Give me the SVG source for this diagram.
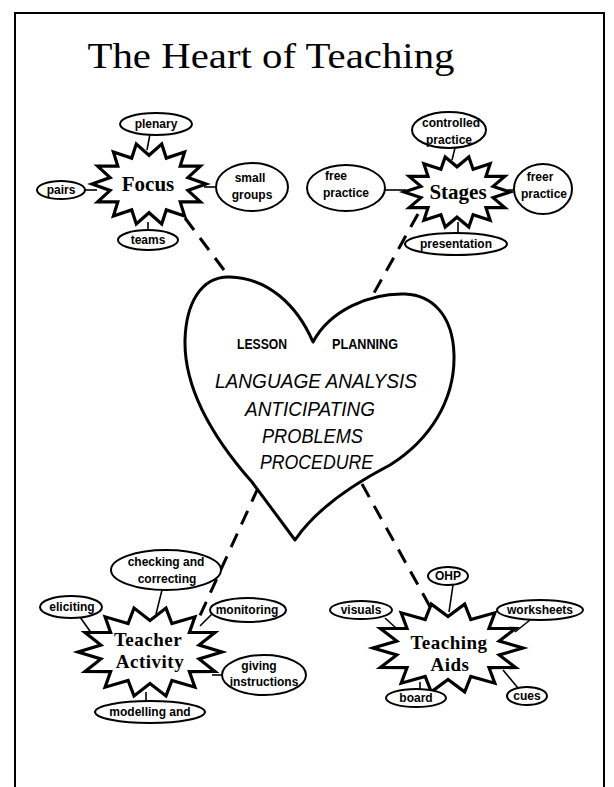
<svg xmlns="http://www.w3.org/2000/svg" width="614" height="787" viewBox="0 0 614 787">
<style>
.frame{fill:none;stroke:#000;stroke-width:2}
.bub{fill:#fff;stroke:#000;stroke-width:2}
.star{fill:#fff;stroke:#000;stroke-width:3.2;stroke-linejoin:miter}
.tie{stroke:#000;stroke-width:1.6;fill:none}
.dash{stroke:#000;stroke-width:3;fill:none;stroke-dasharray:15 10}
.lbl{font-family:"Liberation Sans",Arial,sans-serif;font-weight:bold;font-size:12px;text-anchor:middle;fill:#000}
.slbl{font-family:"Liberation Serif","Times New Roman",serif;font-weight:bold;font-size:21px;text-anchor:middle;fill:#000}
.slbl2{font-family:"Liberation Serif","Times New Roman",serif;font-weight:bold;font-size:19px;text-anchor:middle;fill:#000;letter-spacing:0.5px}
.heart{fill:#fff;stroke:#000;stroke-width:3;stroke-linejoin:round}
.htxt{font-family:"Liberation Sans",Arial,sans-serif;font-style:italic;font-size:20px;fill:#000}
.hsm{font-family:"Liberation Sans",Arial,sans-serif;font-weight:bold;font-size:14px;fill:#000}
.title{font-family:"Liberation Serif","Times New Roman",serif;font-size:36px;fill:#000}
</style>
<rect width="614" height="787" fill="#fff"/>
<path class="frame" d="M15,787 V13 H604 V787"/>
<text class="title" x="271" y="68" textLength="367" lengthAdjust="spacingAndGlyphs" text-anchor="middle">The Heart of Teaching</text>

<g id="connectors">
<line class="dash" x1="185" y1="218" x2="230" y2="278"/>
<line class="dash" x1="418" y1="214" x2="374" y2="293"/>
<line class="dash" x1="258" y1="488" x2="198" y2="620"/>
<line class="dash" x1="362" y1="484" x2="433" y2="612"/>
<line class="tie" x1="150" y1="134" x2="147" y2="150"/>
<line class="tie" x1="85" y1="190" x2="97" y2="190"/>
<line class="tie" x1="204" y1="187" x2="216" y2="187"/>
<line class="tie" x1="148" y1="222" x2="148" y2="231"/>
<line class="tie" x1="455" y1="148" x2="452" y2="160"/>
<line class="tie" x1="385" y1="190" x2="406" y2="190"/>
<line class="tie" x1="508" y1="190" x2="516" y2="190"/>
<line class="tie" x1="458" y1="222" x2="458" y2="234"/>
<line class="tie" x1="162" y1="590" x2="156" y2="614"/>
<line class="tie" x1="80" y1="617" x2="92" y2="634"/>
<line class="tie" x1="212" y1="614" x2="200" y2="626"/>
<line class="tie" x1="212" y1="675" x2="223" y2="675"/>
<line class="tie" x1="146" y1="692" x2="146" y2="701"/>
<line class="tie" x1="453" y1="585" x2="449" y2="612"/>
<line class="tie" x1="385" y1="618" x2="396" y2="628"/>
<line class="tie" x1="530" y1="620" x2="515" y2="632"/>
<line class="tie" x1="420" y1="682" x2="420" y2="690"/>
<line class="tie" x1="503" y1="670" x2="518" y2="688"/>
</g>

<g id="heart">
<path class="heart" d="M313,342 C297,305 268,278 230,277 C200,276 186,305 185,340 C184,390 215,440 252,482 L295,540 C312,515 342,490 390,465 C430,440 455,400 454,355 C453,315 432,295 405,294 C370,293 330,310 313,342 Z"/>
<text class="hsm" x="237" y="349" textLength="50" lengthAdjust="spacingAndGlyphs">LESSON</text>
<text class="hsm" x="332" y="349" textLength="66" lengthAdjust="spacingAndGlyphs">PLANNING</text>
<text class="htxt" x="215" y="388" textLength="202" lengthAdjust="spacingAndGlyphs">LANGUAGE ANALYSIS</text>
<text class="htxt" x="245" y="416" textLength="130" lengthAdjust="spacingAndGlyphs">ANTICIPATING</text>
<text class="htxt" x="262" y="443" textLength="101" lengthAdjust="spacingAndGlyphs">PROBLEMS</text>
<text class="htxt" x="260" y="469" textLength="113" lengthAdjust="spacingAndGlyphs">PROCEDURE</text>
</g>

<g id="focus">
<polygon class="star" points="206,184 187.9,190.4 200.4,201.8 180.2,201.9 184.6,216.1 166.3,209.9 161.7,224 149,212.7 136.3,224 131.7,209.9 113.4,216.1 117.8,201.9 97.6,201.8 110.1,190.4 92,184 110.1,177.6 97.6,166.2 117.8,166.1 113.4,151.9 131.7,158.1 136.3,144 149,155.3 161.7,144 166.3,158.1 184.6,151.9 180.2,166.1 200.4,166.2 187.9,177.6"/>
<text class="slbl" x="148" y="191">Focus</text>
</g>
<g id="plenary"><ellipse class="bub" cx="156" cy="124" rx="36" ry="11"/><text class="lbl" x="156" y="128">plenary</text></g>
<g id="pairs"><ellipse class="bub" cx="61" cy="190" rx="24" ry="9"/><text class="lbl" x="61" y="194">pairs</text></g>
<g id="small-groups"><ellipse class="bub" cx="252" cy="187" rx="36" ry="24"/><text class="lbl" x="250" y="182">small</text><text class="lbl" x="252" y="199">groups</text></g>
<g id="teams"><ellipse class="bub" cx="148" cy="240" rx="30" ry="10"/><text class="lbl" x="148" y="244">teams</text></g>

<g id="stages">
<polygon class="star" points="510,192 493.1,197.6 504.8,207.6 486,207.7 490.1,220.2 473.1,214.7 468.8,227.1 457,217.2 445.2,227.1 440.9,214.7 423.9,220.2 428,207.7 409.2,207.6 420.9,197.6 404,192 420.9,186.4 409.2,176.4 428,176.3 423.9,163.8 440.9,169.3 445.2,156.9 457,166.8 468.8,156.9 473.1,169.3 490.1,163.8 486,176.3 504.8,176.4 493.1,186.4"/>
<text class="slbl" x="458" y="199">Stages</text>
</g>
<g id="controlled-practice"><ellipse class="bub" cx="449" cy="130" rx="37" ry="18"/><text class="lbl" x="451" y="127">controlled</text><text class="lbl" x="449" y="144">practice</text></g>
<g id="free-practice"><ellipse class="bub" cx="346" cy="188" rx="39" ry="23"/><text class="lbl" x="336" y="180">free</text><text class="lbl" x="346" y="197">practice</text></g>
<g id="freer-practice"><ellipse class="bub" cx="543" cy="189" rx="29" ry="25"/><text class="lbl" x="540" y="181">freer</text><text class="lbl" x="544" y="198">practice</text></g>
<g id="presentation"><ellipse class="bub" cx="456" cy="244" rx="51" ry="11"/><text class="lbl" x="456" y="248">presentation</text></g>

<g id="teacher-activity">
<polygon class="star" points="222,652 199.1,659 214.9,671.5 189.4,671.6 194.9,687.2 171.9,680.4 166,695.9 150,683.5 134,695.9 128.1,680.4 105.1,687.2 110.6,671.6 85.1,671.5 100.9,659 78,652 100.9,645 85.1,632.5 110.6,632.4 105.1,616.8 128.1,623.6 134,608.1 150,620.5 166,608.1 171.9,623.6 194.9,616.8 189.4,632.4 214.9,632.5 199.1,645"/>
<text class="slbl2" x="148" y="646">Teacher</text>
<text class="slbl2" x="150" y="668">Activity</text>
</g>
<g id="checking-correcting"><ellipse class="bub" cx="166" cy="570" rx="55" ry="20"/><text class="lbl" x="166" y="566">checking and</text><text class="lbl" x="167" y="583">correcting</text></g>
<g id="eliciting"><ellipse class="bub" cx="71" cy="607" rx="31" ry="11"/><text class="lbl" x="72" y="611">eliciting</text></g>
<g id="monitoring"><ellipse class="bub" cx="248" cy="610" rx="38" ry="12"/><text class="lbl" x="247" y="614">monitoring</text></g>
<g id="giving-instructions"><ellipse class="bub" cx="264" cy="675" rx="42" ry="20"/><text class="lbl" x="259" y="670">giving</text><text class="lbl" x="264" y="686">instructions</text></g>
<g id="modelling"><ellipse class="bub" cx="150" cy="712" rx="55" ry="11"/><text class="lbl" x="150" y="716">modelling and</text></g>

<g id="teaching-aids">
<polygon class="star" points="523,648 499.2,655 515.6,667.5 489,667.6 494.8,683.2 470.8,676.4 464.7,691.9 448,679.5 431.3,691.9 425.2,676.4 401.2,683.2 407,667.6 380.4,667.5 396.8,655 373,648 396.8,641 380.4,628.5 407,628.4 401.2,612.8 425.2,619.6 431.3,604.1 448,616.5 464.7,604.1 470.8,619.6 494.8,612.8 489,628.4 515.6,628.5 499.2,641"/>
<text class="slbl2" x="449" y="649">Teaching</text>
<text class="slbl2" x="450" y="671">Aids</text>
</g>
<g id="ohp"><ellipse class="bub" cx="448" cy="576" rx="20" ry="9"/><text class="lbl" x="448" y="580">OHP</text></g>
<g id="visuals"><ellipse class="bub" cx="361" cy="610" rx="31" ry="9"/><text class="lbl" x="361" y="614">visuals</text></g>
<g id="worksheets"><ellipse class="bub" cx="540" cy="610" rx="43" ry="10"/><text class="lbl" x="540" y="614">worksheets</text></g>
<g id="board"><ellipse class="bub" cx="416" cy="698" rx="30" ry="9"/><text class="lbl" x="416" y="702">board</text></g>
<g id="cues"><ellipse class="bub" cx="527" cy="696" rx="20" ry="9"/><text class="lbl" x="527" y="700">cues</text></g>
</svg>
